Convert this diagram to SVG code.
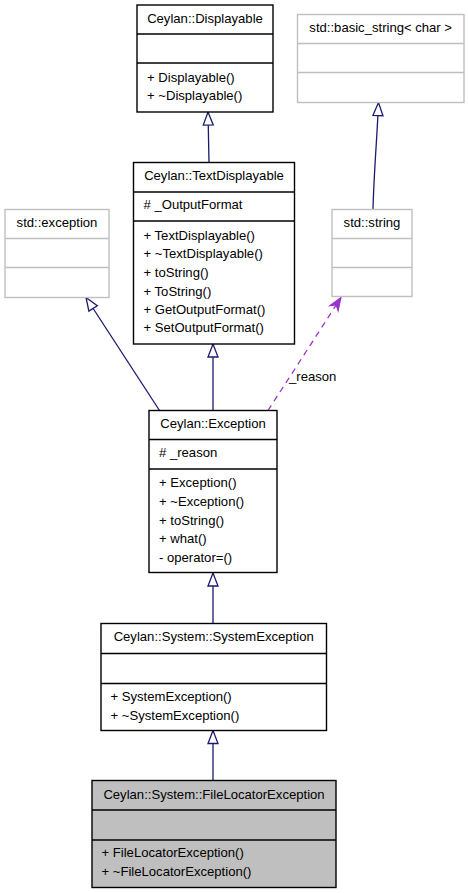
<svg xmlns="http://www.w3.org/2000/svg" width="468" height="893" viewBox="0 0 468 893">
<style>
text{font-family:"Liberation Sans","DejaVu Sans",Arial,sans-serif;font-size:13.1px;fill:#000}
.t{text-anchor:middle}
.box{fill:#fff;stroke:#000;stroke-width:1.4}
.gbox{fill:#fff;stroke:#bfbfbf;stroke-width:1.4}
.sbox{fill:#bfbfbf;stroke:#000;stroke-width:1.4}
.sep{stroke:#000;stroke-width:1.4}
.gsep{stroke:#bfbfbf;stroke-width:1.4}
.inh{fill:none;stroke:#191970;stroke-width:1.3;marker-end:url(#tri)}
.use{fill:none;stroke:#9a32cd;stroke-width:1.3;stroke-dasharray:6,5;marker-end:url(#vee)}
</style>
<defs>
<marker id="tri" markerUnits="userSpaceOnUse" markerWidth="16" markerHeight="14" refX="13" refY="6" orient="auto" overflow="visible">
<path d="M0,1 L13,6 L0,11 Z" fill="#fff" stroke="#191970" stroke-width="1.3"/>
</marker>
<marker id="vee" markerUnits="userSpaceOnUse" markerWidth="16" markerHeight="14" refX="13" refY="6" orient="auto" overflow="visible">
<path d="M0,1 L13,6 L0,11 L4,6 Z" fill="#9a32cd" stroke="#9a32cd" stroke-width="1"/>
</marker>
</defs>
<g id="edges">
<path class="inh" d="M209,162.5 L208,112"/>
<path class="inh" d="M373,209.5 C374,170 377,140 378.5,102.5"/>
<path class="inh" d="M159.5,410.5 L86,297.5"/>
<path class="inh" d="M213,410.5 L213,344"/>
<path class="use" d="M268,410.5 L341,297.5"/>
<text x="289" y="380.5">_reason</text>
<path class="inh" d="M213,623.5 L213,573"/>
<path class="inh" d="M213,780.5 L213,730.5"/>
</g>
<g id="displayable">
<rect class="box" x="137" y="5" width="136" height="107"/>
<line class="sep" x1="137" y1="34" x2="273" y2="34"/>
<line class="sep" x1="137" y1="63" x2="273" y2="63"/>
<text class="t" x="205" y="23">Ceylan::Displayable</text>
<text x="147" y="81.7">+ Displayable()</text>
<text x="147" y="100.3">+ ~Displayable()</text>
</g>
<g id="basic_string">
<rect class="gbox" x="297.5" y="14.5" width="166.5" height="88"/>
<line class="gsep" x1="297.5" y1="43.5" x2="464" y2="43.5"/>
<line class="gsep" x1="297.5" y1="72.5" x2="464" y2="72.5"/>
<text class="t" x="380.7" y="32.3">std::basic_string&lt; char &gt;</text>
</g>
<g id="textdisplayable">
<rect class="box" x="133.5" y="162.5" width="161" height="181.5"/>
<line class="sep" x1="133.5" y1="192" x2="294.5" y2="192"/>
<line class="sep" x1="133.5" y1="221" x2="294.5" y2="221"/>
<text class="t" x="214" y="180.3">Ceylan::TextDisplayable</text>
<text x="143.5" y="209"># _OutputFormat</text>
<text x="143.5" y="239.6">+ TextDisplayable()</text>
<text x="143.5" y="258">+ ~TextDisplayable()</text>
<text x="143.5" y="276.8">+ toString()</text>
<text x="143.5" y="295.5">+ ToString()</text>
<text x="143.5" y="314">+ GetOutputFormat()</text>
<text x="143.5" y="332.3">+ SetOutputFormat()</text>
</g>
<g id="std_exception">
<rect class="gbox" x="5" y="209.5" width="104" height="88"/>
<line class="gsep" x1="5" y1="238.5" x2="109" y2="238.5"/>
<line class="gsep" x1="5" y1="267.5" x2="109" y2="267.5"/>
<text class="t" x="57" y="227.3">std::exception</text>
</g>
<g id="std_string">
<rect class="gbox" x="332" y="209.5" width="80" height="87"/>
<line class="gsep" x1="332" y1="238.5" x2="412" y2="238.5"/>
<line class="gsep" x1="332" y1="267.5" x2="412" y2="267.5"/>
<text class="t" x="372" y="227.3">std::string</text>
</g>
<g id="exception">
<rect class="box" x="149" y="410.5" width="128" height="162"/>
<line class="sep" x1="149" y1="439.5" x2="277" y2="439.5"/>
<line class="sep" x1="149" y1="469" x2="277" y2="469"/>
<text class="t" x="213" y="428">Ceylan::Exception</text>
<text x="159" y="457.3"># _reason</text>
<text x="159" y="487.3">+ Exception()</text>
<text x="159" y="505.8">+ ~Exception()</text>
<text x="159" y="524.5">+ toString()</text>
<text x="159" y="543.3">+ what()</text>
<text x="159" y="561.6">- operator=()</text>
</g>
<g id="systemexception">
<rect class="box" x="101" y="623.5" width="225.5" height="107"/>
<line class="sep" x1="101" y1="653.5" x2="326.5" y2="653.5"/>
<line class="sep" x1="101" y1="683.5" x2="326.5" y2="683.5"/>
<text class="t" x="213.7" y="641.3">Ceylan::System::SystemException</text>
<text x="110.5" y="700.6">+ SystemException()</text>
<text x="110.5" y="719.6">+ ~SystemException()</text>
</g>
<g id="filelocatorexception">
<rect class="sbox" x="92" y="780.5" width="244" height="107"/>
<line class="sep" x1="92" y1="810" x2="336" y2="810"/>
<line class="sep" x1="92" y1="840" x2="336" y2="840"/>
<text class="t" x="214" y="798.8">Ceylan::System::FileLocatorException</text>
<text x="101.5" y="857.3">+ FileLocatorException()</text>
<text x="101.5" y="876.3">+ ~FileLocatorException()</text>
</g>
</svg>
